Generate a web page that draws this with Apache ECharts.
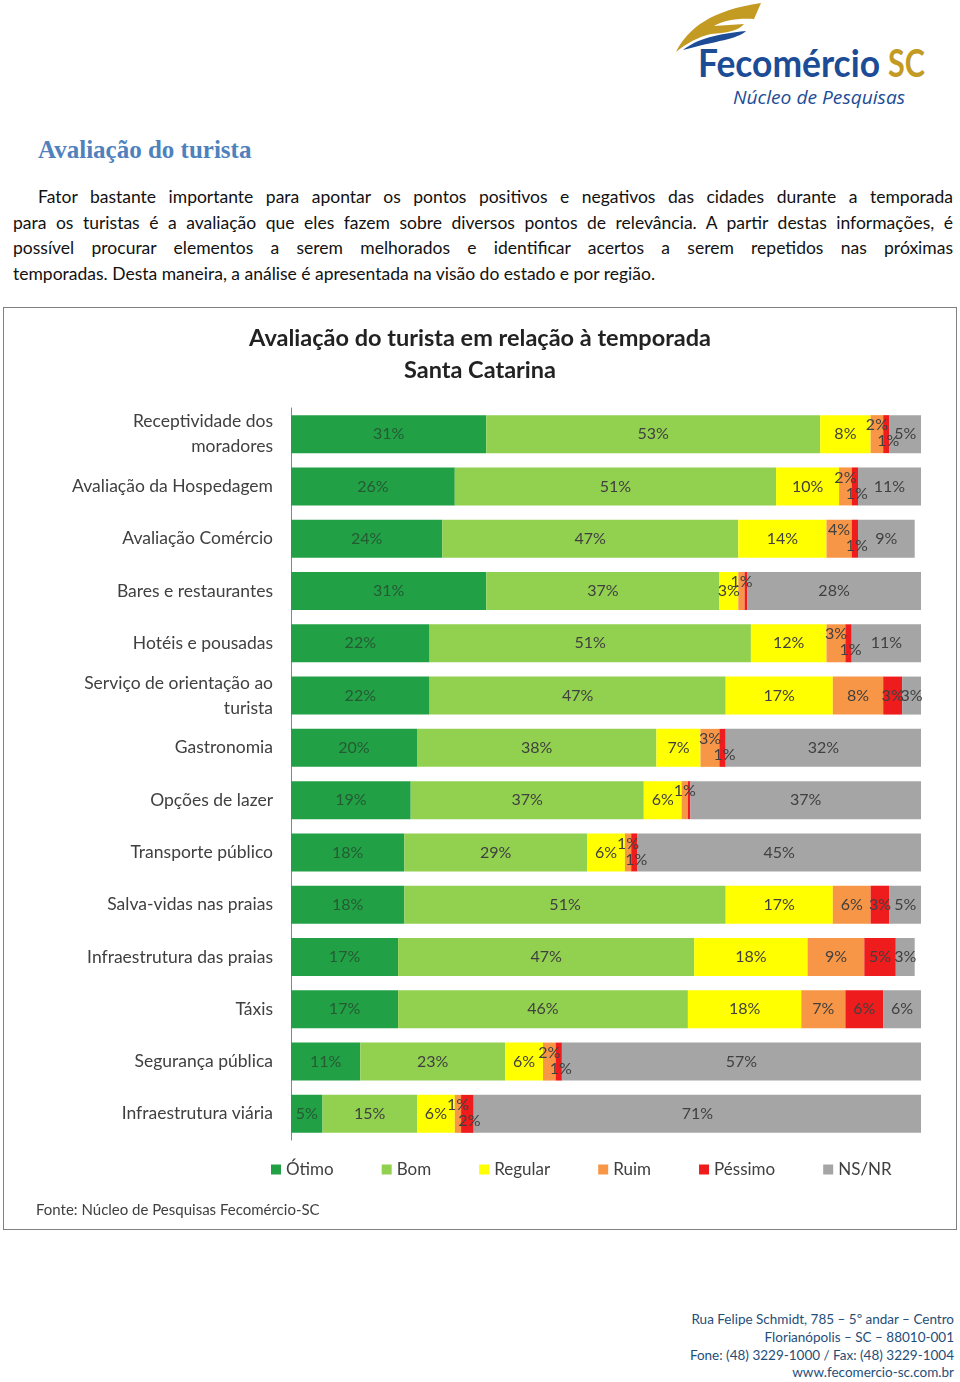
<!DOCTYPE html>
<html>
<head>
<meta charset="utf-8">
<script src="https://cdn.jsdelivr.net/npm/echarts@6/dist/echarts.min.js"></script>
<style>
  html, body { margin: 0; padding: 0; background: #fff; }
  #page { position: relative; width: 960px; height: 1382px; overflow: hidden; font-family: Lato, "Open Sans", sans-serif; }
  #logo { position: absolute; left: 0; top: 0; }
  #h1 { position: absolute; left: 38px; top: 136px; font-family: "Liberation Serif", "DejaVu Serif", serif; font-weight: bold; font-size: 25px; color: #4f81bd; }
  #para { position: absolute; left: 13px; top: 184px; width: 940px; font-size: 17.5px; color: #111; line-height: 25.5px; }
  #para .l { text-align: justify; text-align-last: justify; white-space: nowrap; }
  #para .last { text-align: left; white-space: nowrap; }
  #box { position: absolute; left: 3px; top: 307px; width: 952px; height: 921px; border: 1px solid #808080; }
  #chart { width: 952px; height: 921px; }
  #foot { position: absolute; right: 6px; top: 1311px; text-align: right; font-size: 13.5px; line-height: 17.8px; color: #1f4e79; }
</style>
</head>
<body>
<div id="page">
  <svg id="logo" width="960" height="120">
    <path d="M676,52 C688,28 712,10 761,3 L754,19 C738,18 724,20 714,26 L744,24 C738,31 726,33 711,34 C698,37 687,43 676,52 Z" fill="#c39a22"/>
    <path d="M683,50 C697,39 716,34 746,31 C738,39 716,41 683,50 Z" fill="#1c4c96"/>
    <text x="698" y="77" font-family="Lato, sans-serif" font-weight="bold" font-size="38" fill="#1c4c96" textLength="182" lengthAdjust="spacingAndGlyphs">Fecomércio</text>
    <text x="888" y="77" font-family="Lato, sans-serif" font-weight="bold" font-size="38" fill="#c39a22" textLength="37" lengthAdjust="spacingAndGlyphs">SC</text>
    <text x="733" y="104" font-family="'Open Sans', sans-serif" font-style="italic" font-size="18" fill="#1c4c96" textLength="172" lengthAdjust="spacingAndGlyphs">Núcleo de Pesquisas</text>
  </svg>
  <div id="h1">Avaliação do turista</div>
  <div id="para">
    <div class="l" style="padding-left:25px">Fator bastante importante para apontar os pontos positivos e negativos das cidades durante a temporada</div>
    <div class="l">para os turistas é a avaliação que eles fazem sobre diversos pontos de relevância. A partir destas informações, é</div>
    <div class="l">possível procurar elementos a serem melhorados e identificar acertos a serem repetidos nas próximas</div>
    <div class="last">temporadas. Desta maneira, a análise é apresentada na visão do estado e por região.</div>
  </div>
  <div id="box"><div id="chart"></div></div>
  <div id="foot">
    Rua Felipe Schmidt, 785 – 5º andar – Centro<br>
    Florianópolis – SC – 88010-001<br>
    Fone: (48) 3229-1000 / Fax: (48) 3229-1004<br>
    www.fecomercio-sc.com.br
  </div>
</div>
<script>
const categories = [
  'Receptividade dos\nmoradores', 'Avaliação da Hospedagem', 'Avaliação Comércio', 'Bares e restaurantes',
  'Hotéis e pousadas', 'Serviço de orientação ao\nturista', 'Gastronomia', 'Opções de lazer',
  'Transporte público', 'Salva-vidas nas praias', 'Infraestrutura das praias', 'Táxis',
  'Segurança pública', 'Infraestrutura viária'
];
const seriesNames = ['Ótimo', 'Bom', 'Regular', 'Ruim', 'Péssimo', 'NS/NR'];
const otimo   = [31, 26, 24, 31, 22, 22, 20, 19, 18, 18, 17, 17, 11, 5];
const bom     = [53, 51, 47, 37, 51, 47, 38, 37, 29, 51, 47, 46, 23, 15];
const regular = [8, 10, 14, 3, 12, 17, 7, 6, 6, 17, 18, 18, 6, 6];
const ruim    = [2, 2, 4, 1, 3, 8, 3, 1, 1, 6, 9, 7, 2, 1];
const pessimo = [1, 1, 1, 0.4, 1, 3, 1, 0.4, 1, 3, 5, 6, 1, 2];
const nsnr    = [5, 11, 9, 28, 11, 3, 32, 37, 45, 5, 3, 6, 57, 71];

const colors = ['#22a046', '#92d050', '#ffff00', '#f79646', '#ee1c1c', '#a5a5a5'];
const values = [otimo, bom, regular, ruim, pessimo, nsnr];

function item(v, si) {
  const d = { value: v };
  if (si === 3 && v <= 4) d.label = { offset: [0, -9] };
  if (si === 4 && v <= 2) d.label = { offset: [2, 7] };
  return d;
}

const chart = echarts.init(document.getElementById('chart'));
chart.setOption({
  animation: false,
  title: {
    text: 'Avaliação do turista em relação à temporada\nSanta Catarina',
    left: 'center', top: 9,
    textStyle: { fontFamily: 'Lato', fontWeight: 'bold', fontSize: 23.5, lineHeight: 32, color: '#222' }
  },
  legend: {
    data: seriesNames,
    left: 262, top: 848,
    itemWidth: 10, itemHeight: 10, itemGap: 48, icon: 'rect',
    textStyle: { fontFamily: 'Lato', fontSize: 17, color: '#404040' }
  },
  graphic: [{
    type: 'text', left: 32, top: 895,
    style: { text: 'Fonte: Núcleo de Pesquisas Fecomércio-SC', font: '15px Lato', fill: '#404040' }
  }],
  grid: { left: 287, top: 100, width: 630, height: 732 },
  xAxis: { type: 'value', min: 0, max: 100, show: false },
  yAxis: {
    type: 'category', inverse: true, data: categories,
    axisLine: { lineStyle: { color: '#868686' } },
    axisTick: { length: 5, lineStyle: { color: '#868686' } },
    axisLabel: { fontFamily: 'Lato', fontSize: 17.5, color: '#404040', margin: 18, lineHeight: 25, align: 'right' }
  },
  series: seriesNames.map((name, si) => ({
    name, type: 'bar', stack: 'all', barWidth: 38,
    itemStyle: { color: colors[si] },
    label: {
      show: true, position: 'inside',
      fontFamily: 'Lato', fontSize: 16,
      color: si === 0 ? '#255a33' : '#404040',
      formatter: p => p.value >= 0.5 ? Math.round(p.value) + '%' : ''
    },
    data: values[si].map(v => item(v, si))
  }))
});
</script>
</body>
</html>
